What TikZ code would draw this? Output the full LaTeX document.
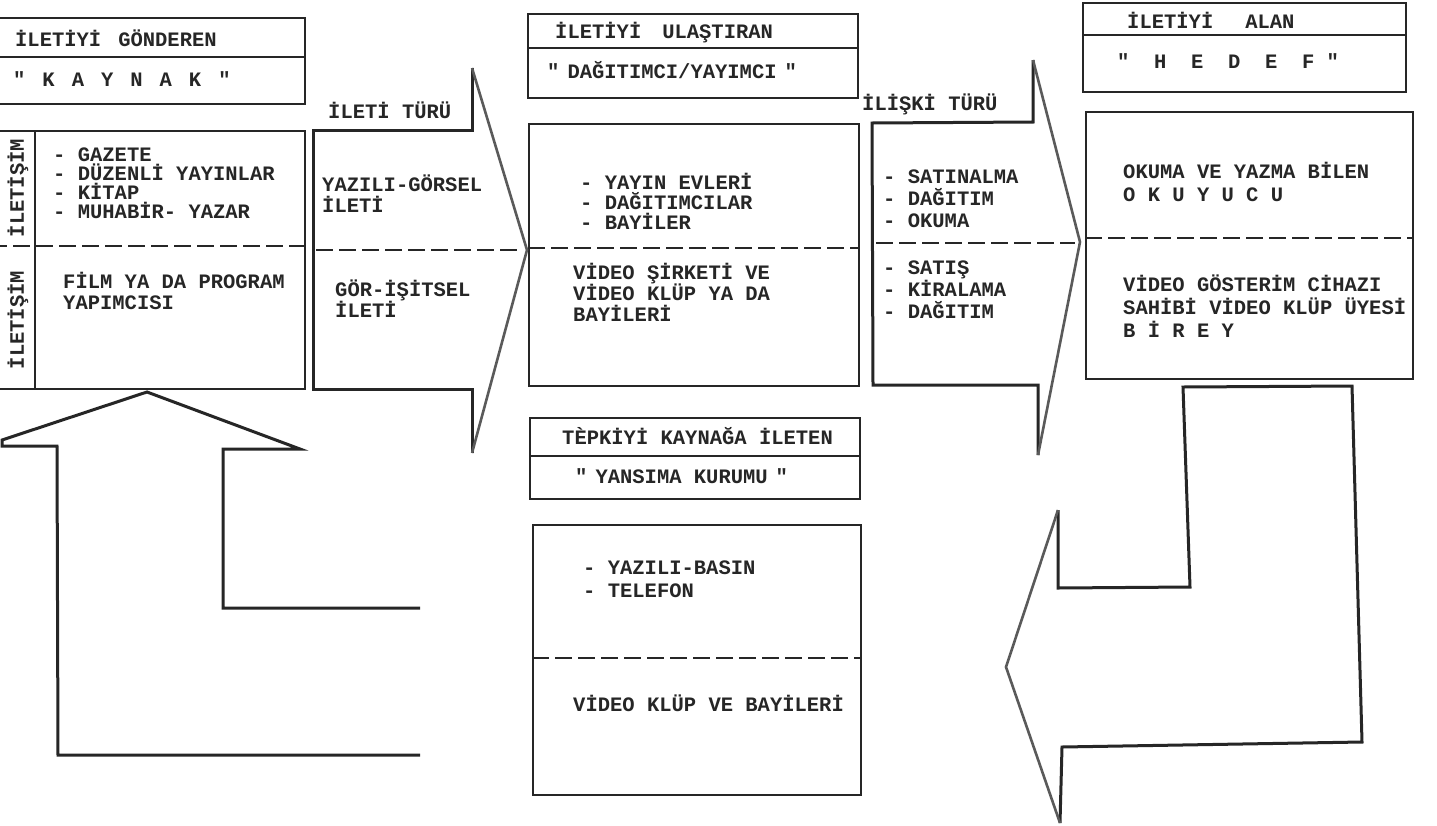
\documentclass[tikz,border=0pt]{standalone}
\usepackage{fontspec}
\setmainfont{Liberation Mono}[Ligatures=TeXOff]
\definecolor{ink}{HTML}{262626}
\definecolor{headgray}{HTML}{5a5a5a}
\tikzset{
 box/.style={draw=ink, line width=2.4pt, inner sep=0pt, anchor=north west},
 txt/.style={text=ink, inner sep=0pt, anchor=base west, font=\fontsize{20.5}{22}\selectfont\bfseries},
 divider/.style={draw=ink, line width=2pt},
 dashline/.style={draw=ink, line width=1.6pt, dash pattern=on 17pt off 6pt},
 arrowline/.style={draw=ink, line width=3pt, line join=miter},
 headline/.style={draw=headgray, line width=2.6pt, line join=miter},
}
\newcommand\txtl[4]{\node[txt] (#1) at (#2,#3) {#4};}
\begin{document}
\begin{tikzpicture}[x=1pt,y=-1pt]
\fill[white] (0,0) rectangle (1437,825);
\useasboundingbox (0,0) rectangle (1437,825);

% ---------- boxes ----------
\node[box, minimum width=314pt, minimum height=86pt] (srcT) at (-10,17) {};
\draw[divider] (-10,57) -- (304,57);
\node[box, minimum width=314pt, minimum height=258pt] (srcB) at (-10,130) {};
\draw[divider] (35,130) -- (35,388);
\draw[dashline] (-10,246) -- (304,246);

\node[box, minimum width=330pt, minimum height=84pt] (midT) at (527,13) {};
\draw[divider] (527,48) -- (857,48);
\node[box, minimum width=330pt, minimum height=262pt] (midB) at (528,123) {};
\draw[dashline] (528,248) -- (858,248);

\node[box, minimum width=330pt, minimum height=81pt] (fbT) at (529,417) {};
\draw[divider] (529,456) -- (859,456);
\node[box, minimum width=328pt, minimum height=270pt] (fbB) at (532,524) {};
\draw[dashline] (532,658) -- (860,658);

\node[box, minimum width=323pt, minimum height=89pt] (dstT) at (1082,2) {};
\draw[divider] (1082,35) -- (1405,35);
\node[box, minimum width=327pt, minimum height=267pt] (dstB) at (1085,111) {};
\draw[dashline] (1085,238) -- (1412,238);

% ---------- arrow 1 (ileti turu) ----------
\draw[arrowline] (472,68) -- (472,130) -- (313,130) -- (313,389) -- (472,389) -- (472,453);
\draw[headline] (472,453) -- (527,250) -- (472,68);
\draw[dashline] (316,250) -- (520,250);

% ---------- arrow 2 (iliski turu) ----------
\draw[arrowline] (1033,60) -- (1033,122) -- (872,123) -- (873,385) -- (1038,385) -- (1038,455);
\draw[headline] (1038,455) -- (1080,242) -- (1033,60);
\draw[dashline] (876,243) -- (1075,243);

% ---------- left up arrow ----------
\draw[arrowline] (420,755) -- (58,755) -- (57,446) -- (2,446) -- (2,440) -- (147,392) -- (300,449) -- (223,449) -- (223,608) -- (420,608);

% ---------- right down-left arrow ----------
\draw[arrowline] (1058,510) -- (1058,588) -- (1190,587) -- (1183,387) -- (1352,386) -- (1362,742) -- (1062,747) -- (1060,823);
\draw[headline] (1060,823) -- (1006,667) -- (1058,510);

% ---------- texts: source ----------
\txtl{s1}{15}{46}{İLETİYİ\hspace{17pt}GÖNDEREN}
\txtl{s2}{13}{86}{"\hspace{17pt}K\hspace{17pt}A\hspace{17pt}Y\hspace{17pt}N\hspace{17pt}A\hspace{17pt}K\hspace{17pt}"}
\node[txt, rotate=90, anchor=center] (v1) at (18,188) {İLETİŞİM};
\node[txt, rotate=90, anchor=center] (v2) at (18,320) {İLETİŞİM};
\txtl{s3}{53}{161}{- GAZETE}
\txtl{s4}{53}{180}{- DÜZENLİ YAYINLAR}
\txtl{s5}{53}{199}{- KİTAP}
\txtl{s6}{53}{218}{- MUHABİR- YAZAR}
\txtl{s7}{63}{288}{FİLM YA DA PROGRAM}
\txtl{s8}{63}{309}{YAPIMCISI}

% ---------- arrow 1 texts ----------
\txtl{a1}{328}{118}{İLETİ TÜRÜ}
\txtl{a2}{322}{191}{YAZILI-GÖRSEL}
\txtl{a3}{322}{212}{İLETİ}
\txtl{a4}{335}{296}{GÖR-İŞİTSEL}
\txtl{a5}{335}{317}{İLETİ}

% ---------- middle texts ----------
\txtl{m1}{555}{38}{İLETİYİ\hspace{21pt}ULAŞTIRAN}
\txtl{m2}{547}{78}{"\hspace{8pt}DAĞITIMCI/YAYIMCI\hspace{8pt}"}
\txtl{m3}{580}{189}{- YAYIN EVLERİ}
\txtl{m4}{580}{209}{- DAĞITIMCILAR}
\txtl{m5}{580}{229}{- BAYİLER}
\txtl{m6}{573}{279}{VİDEO ŞİRKETİ VE}
\txtl{m7}{573}{300}{VİDEO KLÜP YA DA}
\txtl{m8}{573}{321}{BAYİLERİ}

% ---------- arrow 2 texts ----------
\txtl{b1}{862}{110}{İLİŞKİ TÜRÜ}
\txtl{b2}{883}{183}{- SATINALMA}
\txtl{b3}{883}{205}{- DAĞITIM}
\txtl{b4}{883}{227}{- OKUMA}
\txtl{b5}{883}{274}{- SATIŞ}
\txtl{b6}{883}{296}{- KİRALAMA}
\txtl{b7}{883}{318}{- DAĞITIM}

% ---------- target texts ----------
\txtl{d1}{1127}{28}{İLETİYİ\hspace{32pt}ALAN}
\txtl{d2}{1117}{68}{"\hspace{24.7pt}H\hspace{24.7pt}E\hspace{24.7pt}D\hspace{24.7pt}E\hspace{24.7pt}F\hspace{12pt}"}
\txtl{d3}{1123}{178}{OKUMA VE YAZMA BİLEN}
\txtl{d4}{1123}{201}{O K U Y U C U}
\txtl{d5}{1123}{291}{VİDEO GÖSTERİM CİHAZI}
\txtl{d6}{1123}{314}{SAHİBİ VİDEO KLÜP ÜYESİ}
\txtl{d7}{1123}{337}{B İ R E Y}

% ---------- feedback texts ----------
\txtl{f1}{562}{444}{TÈPKİYİ KAYNAĞA İLETEN}
\txtl{f2}{575}{483}{"\hspace{8pt}YANSIMA KURUMU\hspace{8pt}"}
\txtl{f3}{583}{574}{- YAZILI-BASIN}
\txtl{f4}{583}{597}{- TELEFON}
\txtl{f5}{573}{711}{VİDEO KLÜP VE BAYİLERİ}
\end{tikzpicture}
\end{document}
